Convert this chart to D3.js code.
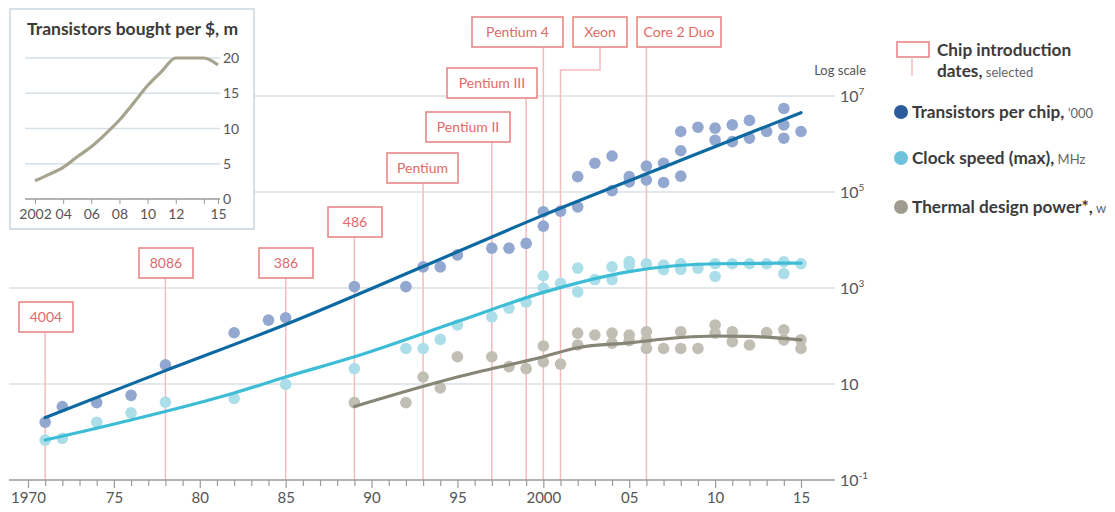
<!DOCTYPE html>
<html>
<head>
<meta charset="utf-8">
<script src="https://cdn.jsdelivr.net/npm/d3@7"></script>
<style>
body { margin: 0; background: #fff; }
svg text { font-family: Lato, "Open Sans", sans-serif; }
</style>
</head>
<body>
<svg id="chart" width="1115" height="512"></svg>
<script>
// ---- data ----
// transistors per chip, '000
const transistorDots = [
    [1971, 1.6], [1972, 3.4], [1974, 4.1], [1976, 5.8], [1978, 25], [1982, 117], [1984, 214], [1985, 240],
    [1989, 1070], [1992, 1070], [1993, 2750], [1994, 2750], [1995, 4900], [1997, 6760], [1998, 6760], [1999, 8500],
    [2000, 38900], [2000, 19500], [2001, 40000], [2002, 49000], [2002, 209000], [2003, 398000],
    [2004, 562000], [2004, 107000], [2005, 209000], [2005, 162000], [2006, 347000], [2006, 178000],
    [2007, 398000], [2007, 158000], [2008, 1820000], [2008, 724000], [2008, 214000], [2009, 2240000],
    [2010, 2140000], [2010, 1200000], [2011, 2500000], [2011, 1120000], [2012, 3100000], [2012, 1320000],
    [2013, 1820000], [2014, 5500000], [2014, 2500000], [2014, 1320000], [2015, 1820000]
];
// clock speed (max), MHz
const clockDots = [
    [1971, 0.68], [1972, 0.74], [1974, 1.6], [1976, 2.5], [1978, 4.2], [1982, 5], [1985, 9.8],
    [1989, 21], [1992, 55], [1993, 55], [1994, 85], [1995, 170], [1997, 250], [1998, 380], [1999, 510],
    [2000, 1000], [2000, 1800], [2001, 1250], [2002, 2600], [2002, 830], [2003, 1500], [2004, 2750], [2004, 1500],
    [2005, 3550], [2005, 3000], [2006, 3200], [2007, 3000], [2007, 2400], [2008, 3200], [2008, 2450],
    [2009, 2600], [2010, 3200], [2010, 1740], [2011, 3200], [2012, 3200], [2013, 3200],
    [2014, 3500], [2014, 2000], [2015, 3200]
];
// thermal design power, W
const powerDots = [
    [1989, 4.1], [1992, 4.1], [1993, 14], [1994, 8.3], [1995, 37], [1997, 37], [1998, 23], [1999, 21],
    [2000, 62], [2000, 29], [2001, 26], [2002, 115], [2002, 65], [2003, 105], [2004, 115], [2004, 71],
    [2005, 105], [2005, 80], [2006, 123], [2006, 83], [2006, 55], [2007, 55], [2008, 123], [2008, 55],
    [2009, 55], [2010, 170], [2010, 115], [2011, 123], [2011, 76], [2012, 65], [2013, 118],
    [2014, 135], [2014, 83], [2015, 83], [2015, 55]
];
// fitted trend lines
const transistorTrend = [[1971, 2.0], [1978, 19], [1985, 174], [1993, 2800], [2000, 33000], [2008, 457000], [2015, 4500000]];
const clockTrend = [[1971, 0.68], [1976, 1.78], [1982, 6.5], [1985, 14], [1989, 37], [1995, 200], [2000, 810], [2005, 2200], [2010, 3200], [2015, 3300]];
const powerTrend = [[1989, 3.4], [1995, 14], [2000, 37], [2002, 57], [2005, 72], [2008, 93], [2010, 100], [2012, 98], [2015, 83]];

const chipNames = ["4004", "8086", "386", "486", "Pentium", "Pentium II", "Pentium III", "Pentium 4", "Xeon", "Core 2 Duo"];
const chipYears = [1971, 1978, 1985, 1989, 1993, 1997, 1999, 2000, 2001, 2006];

const yTicks = [0.1, 10, 1e3, 1e5, 1e7];
const yearLabels = { 1970: "1970", 1975: "75", 1980: "80", 1985: "85", 1990: "90", 1995: "95", 2000: "2000", 2005: "05", 2010: "10", 2015: "15" };

// inset: transistors bought per $, m
const insetYears = [2002, 2003, 2004, 2005, 2006, 2007, 2008, 2009, 2010, 2011, 2012, 2013, 2014, 2015];
const insetValues = [2.6, 3.5, 4.5, 6.0, 7.4, 9.2, 11.2, 13.6, 16.1, 18.1, 20, 20, 20, 19];
const insetTicks = [2002, 2004, 2006, 2008, 2010, 2012, 2014, 2015];
const insetTickLabels = { 2002: "2002", 2004: "04", 2006: "06", 2008: "08", 2010: "10", 2012: "12", 2015: "15" };

// annotation boxes (layout only)
const chipBoxes = [
    { left: 19, top: 302, w: 54 }, { left: 139, top: 248, w: 54 }, { left: 259, top: 248, w: 54 },
    { left: 328, top: 207, w: 54 }, { left: 387, top: 153, w: 71 }, { left: 426, top: 112, w: 84 },
    { left: 447, top: 68, w: 90 }, { left: 472, top: 17, w: 91 }, { left: 573, top: 17, w: 54, elbow: 70 },
    { left: 637, top: 17, w: 84 }
];

const colors = {
    grid: "#d6e0e7", axis: "#9a9a9a", tick: "#555",
    trLine: "#0d69a1", trDot: "#93a8d0", trKey: "#2d5a9b",
    ckLine: "#3dbdd5", ckDot: "#acdeea", ckKey: "#6ec3dc",
    pwLine: "#878575", pwDot: "#c1beb4", pwKey: "#9f9c8f",
    chipBox: "#e58080", chipText: "#e06a6a", chipStem: "#f4bcbc"
};

const svg = d3.select("#chart");

const x = d3.scaleLinear().domain([1970, 2015]).range([28, 801]);
const y = d3.scaleLog().domain([0.1, 1e7]).range([480, 96]);

// gridlines
svg.append("g")
    .selectAll("line")
    .data(yTicks.filter(d => d > 0.1))
    .enter().append("line")
    .attr("x1", 9).attr("x2", 835)
    .attr("y1", d => y(d)).attr("y2", d => y(d))
    .attr("stroke", colors.grid)
    .attr("stroke-width", 1.5);

// y labels with superscripts
const yLab = svg.append("g")
    .selectAll("text")
    .data(yTicks)
    .enter().append("text")
    .attr("x", 840)
    .attr("y", d => y(d) + 6)
    .attr("font-size", 16)
    .attr("fill", colors.tick);
yLab.append("tspan").text("10");
yLab.filter(d => d !== 10).append("tspan")
    .attr("dy", -7)
    .attr("font-size", 10)
    .text(d => Math.round(Math.log10(d)));

svg.append("text")
    .attr("x", 866).attr("y", 75)
    .attr("text-anchor", "end")
    .attr("font-size", 13)
    .attr("fill", colors.tick)
    .text("Log scale");

// chip stems
const stems = svg.append("g")
    .attr("stroke", colors.chipStem)
    .attr("stroke-width", 1.5)
    .attr("fill", "none");
chipYears.forEach((yr, i) => {
    const b = chipBoxes[i];
    const sx = x(yr);
    const bottom = b.top + 30;
    if (b.elbow) {
        const cx = b.left + b.w / 2;
        stems.append("path")
            .attr("d", `M${cx},${bottom}V${b.elbow}H${sx}V480`);
    } else {
        stems.append("line")
            .attr("x1", sx).attr("x2", sx)
            .attr("y1", bottom).attr("y2", 480);
    }
});

// x axis
const xAxis = d3.axisBottom(x)
    .tickValues(d3.range(1970, 2016))
    .tickSize(6)
    .tickFormat(d => yearLabels[d] || "");
const xg = svg.append("g")
    .attr("transform", "translate(0,480)")
    .call(xAxis);
xg.select(".domain").remove();
xg.selectAll(".tick line").attr("stroke", colors.axis).attr("stroke-width", 1.2)
    .attr("y2", d => yearLabels[d] ? 8 : 6);
xg.selectAll(".tick text")
    .attr("y", 12)
    .attr("font-size", 15)
    .attr("font-family", "Lato, 'Open Sans', sans-serif")
    .attr("fill", colors.tick);
svg.append("line")
    .attr("x1", 9).attr("x2", 835)
    .attr("y1", 480).attr("y2", 480)
    .attr("stroke", colors.axis)
    .attr("stroke-width", 1.5);

// dots
function drawDots(data, fill) {
    svg.append("g")
        .selectAll("circle")
        .data(data)
        .enter().append("circle")
        .attr("cx", d => x(d[0]))
        .attr("cy", d => y(d[1]))
        .attr("r", 5.8)
        .attr("fill", fill);
}
drawDots(powerDots, colors.pwDot);
drawDots(clockDots, colors.ckDot);
drawDots(transistorDots, colors.trDot);

// trend lines
const line = d3.line()
    .x(d => x(d[0]))
    .y(d => y(d[1]))
    .curve(d3.curveMonotoneX);
[[powerTrend, colors.pwLine], [clockTrend, colors.ckLine], [transistorTrend, colors.trLine]].forEach(([data, c]) => {
    svg.append("path")
        .datum(data)
        .attr("d", line)
        .attr("fill", "none")
        .attr("stroke", c)
        .attr("stroke-width", 3.2)
        .attr("stroke-linecap", "round");
});

// chip label boxes
const boxes = svg.append("g")
    .selectAll("g")
    .data(chipNames)
    .enter().append("g")
    .attr("transform", (d, i) => `translate(${chipBoxes[i].left},${chipBoxes[i].top})`);
boxes.append("rect")
    .attr("width", (d, i) => chipBoxes[i].w)
    .attr("height", 30)
    .attr("fill", "#fff")
    .attr("stroke", colors.chipBox)
    .attr("stroke-width", 1.5);
boxes.append("text")
    .attr("x", (d, i) => chipBoxes[i].w / 2)
    .attr("y", 20)
    .attr("text-anchor", "middle")
    .attr("font-size", 14)
    .attr("fill", colors.chipText)
    .text(d => d);

// legend
const legend = svg.append("g");
legend.append("rect")
    .attr("x", 897).attr("y", 42).attr("width", 32).attr("height", 15)
    .attr("fill", "#fff").attr("stroke", colors.chipBox).attr("stroke-width", 1.5);
legend.append("line")
    .attr("x1", 912).attr("x2", 912).attr("y1", 57).attr("y2", 76)
    .attr("stroke", colors.chipStem).attr("stroke-width", 1.5);
legend.append("text")
    .attr("x", 937).attr("y", 56)
    .attr("font-size", 17.2).attr("font-weight", 700).attr("fill", "#3b3b3b")
    .text("Chip introduction");
const dl = legend.append("text")
    .attr("x", 937).attr("y", 77)
    .attr("font-size", 17.2).attr("font-weight", 700).attr("fill", "#3b3b3b");
dl.append("tspan").text("dates,");
dl.append("tspan").attr("font-size", 13).attr("font-weight", 400).attr("fill", "#666").text(" selected");

const keys = [
    { label: "Transistors per chip,", unit: " \u2019000", color: colors.trKey, cy: 112 },
    { label: "Clock speed (max),", unit: "  MHz", color: colors.ckKey, cy: 158 },
    { label: "Thermal design power*,", unit: " w", color: colors.pwKey, cy: 207 }
];
keys.forEach(k => {
    legend.append("circle")
        .attr("cx", 901).attr("cy", k.cy).attr("r", 7)
        .attr("fill", k.color);
    const t = legend.append("text")
        .attr("x", 912).attr("y", k.cy + 6)
        .attr("font-size", 17.2).attr("font-weight", 700).attr("fill", "#3b3b3b");
    t.append("tspan").text(k.label);
    t.append("tspan").attr("font-size", 13).attr("font-weight", 400).attr("fill", "#666").text(k.unit);
});

// inset chart
const inset = svg.append("g");
inset.append("rect")
    .attr("x", 10).attr("y", 9).attr("width", 244).attr("height", 220)
    .attr("fill", "#fff")
    .attr("stroke", "#c8d6e0")
    .attr("stroke-width", 1.5);
inset.append("text")
    .attr("x", 27).attr("y", 35)
    .attr("font-size", 17.5).attr("font-weight", 700).attr("fill", "#3b3b3b")
    .text("Transistors bought per $, m");

const ix = d3.scaleLinear().domain([2002, 2015]).range([35, 218]);
const iy = d3.scaleLinear().domain([0, 20]).range([199, 58]);

inset.append("g")
    .selectAll("line")
    .data([5, 10, 15, 20])
    .enter().append("line")
    .attr("x1", 25).attr("x2", 220)
    .attr("y1", d => iy(d)).attr("y2", d => iy(d))
    .attr("stroke", colors.grid).attr("stroke-width", 1.5);
inset.append("g")
    .selectAll("text")
    .data([0, 5, 10, 15, 20])
    .enter().append("text")
    .attr("x", 223).attr("y", d => iy(d) + 5)
    .attr("font-size", 14).attr("fill", colors.tick)
    .text(d => d);

const ixg = inset.append("g")
    .attr("transform", "translate(0,199)")
    .call(d3.axisBottom(ix).tickValues(insetTicks).tickSize(5).tickFormat(d => insetTickLabels[d] || ""));
ixg.select(".domain").remove();
ixg.selectAll(".tick line").attr("stroke", colors.axis);
ixg.selectAll(".tick text")
    .attr("y", 10)
    .attr("font-size", 14)
    .attr("font-family", "Lato, 'Open Sans', sans-serif")
    .attr("fill", colors.tick);
inset.append("line")
    .attr("x1", 25).attr("x2", 220)
    .attr("y1", 199).attr("y2", 199)
    .attr("stroke", colors.axis).attr("stroke-width", 1.5);

inset.append("path")
    .datum(insetYears.map((yr, i) => [yr, insetValues[i]]))
    .attr("d", d3.line().x(d => ix(d[0])).y(d => iy(d[1])).curve(d3.curveMonotoneX))
    .attr("fill", "none")
    .attr("stroke", "#a6a38e")
    .attr("stroke-width", 3.2);
</script>
</body>
</html>
